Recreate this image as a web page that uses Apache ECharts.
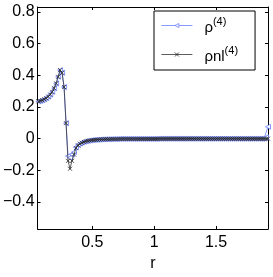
<!DOCTYPE html>
<html><head><meta charset="utf-8">
<script src="https://cdn.jsdelivr.net/npm/echarts@6/dist/echarts.min.js"></script>
<style>html,body{margin:0;padding:0;background:#fff}#c{width:273px;height:277px}</style>
</head><body><div id="c"></div>
<script>
const r = [0.064,0.080,0.096,0.112,0.128,0.144,0.160,0.176,0.192,0.208,0.224,0.240,0.256,0.272,0.288,0.304,0.320,0.336,0.352,0.368,
0.384,0.400,0.416,0.432,0.448,0.464,0.480,0.496,0.512,0.528,0.544,0.560,0.576,0.592,0.608,0.624,0.640,0.656,0.672,0.688,
0.704,0.720,0.736,0.752,0.768,0.784,0.800,0.816,0.832,0.848,0.864,0.880,0.896,0.912,0.928,0.944,0.960,0.976,0.992,1.008,
1.024,1.040,1.056,1.072,1.088,1.104,1.120,1.136,1.152,1.168,1.184,1.200,1.216,1.232,1.248,1.264,1.280,1.296,1.312,1.328,
1.344,1.360,1.376,1.392,1.408,1.424,1.440,1.456,1.472,1.488,1.504,1.520,1.536,1.552,1.568,1.584,1.600,1.616,1.632,1.648,
1.664,1.680,1.696,1.712,1.728,1.744,1.760,1.776,1.792,1.808,1.824,1.840,1.856,1.872,1.888,1.904,1.920];
const rho4 = [0.235,0.238,0.242,0.248,0.255,0.265,0.278,0.295,0.318,0.348,0.390,0.432,0.415,0.325,0.097,-0.110,-0.120,-0.100,-0.085,-0.055,
-0.040,-0.031,-0.025,-0.020,-0.017,-0.014,-0.012,-0.010,-0.009,-0.008,-0.007,-0.006,-0.005,-0.005,-0.004,-0.004,-0.004,-0.003,-0.003,-0.003,
-0.003,-0.002,-0.002,-0.002,-0.002,-0.002,-0.002,-0.002,-0.002,-0.002,-0.002,-0.002,-0.002,-0.002,-0.002,-0.002,-0.002,-0.002,-0.002,-0.002,
-0.002,-0.001,-0.001,-0.001,-0.001,-0.001,-0.001,-0.001,-0.001,-0.001,-0.001,-0.001,-0.001,-0.001,-0.001,-0.001,-0.001,-0.001,-0.001,-0.001,
-0.001,-0.001,-0.001,-0.001,-0.001,-0.001,-0.001,-0.001,-0.001,-0.001,-0.001,-0.001,-0.001,-0.001,-0.001,-0.001,-0.001,-0.001,-0.001,-0.001,
-0.001,-0.001,-0.001,-0.001,-0.001,-0.001,-0.001,-0.001,-0.001,-0.001,-0.001,-0.001,-0.001,-0.001,0.000,0.008,0.075];
const rhonl4 = [0.235,0.238,0.242,0.248,0.255,0.265,0.278,0.295,0.318,0.348,0.390,0.432,0.415,0.325,0.097,-0.140,-0.190,-0.140,-0.100,-0.060,
-0.042,-0.032,-0.026,-0.021,-0.017,-0.014,-0.012,-0.010,-0.009,-0.008,-0.007,-0.006,-0.005,-0.005,-0.004,-0.004,-0.004,-0.003,-0.003,-0.003,
-0.003,-0.002,-0.002,-0.002,-0.002,-0.002,-0.002,-0.002,-0.002,-0.002,-0.002,-0.002,-0.002,-0.002,-0.002,-0.002,-0.002,-0.002,-0.002,-0.002,
-0.002,-0.001,-0.001,-0.001,-0.001,-0.001,-0.001,-0.001,-0.001,-0.001,-0.001,-0.001,-0.001,-0.001,-0.001,-0.001,-0.001,-0.001,-0.001,-0.001,
-0.001,-0.001,-0.001,-0.001,-0.001,-0.001,-0.001,-0.001,-0.001,-0.001,-0.001,-0.001,-0.001,-0.001,-0.001,-0.001,-0.001,-0.001,-0.001,-0.001,
-0.001,-0.001,-0.001,-0.001,-0.001,-0.001,-0.001,-0.001,-0.001,-0.001,-0.001,-0.001,-0.001,-0.001,-0.001,-0.001,0.000];
const xTicks = [0.5, 1, 1.5];
const yTicks = [-0.4, -0.2, 0, 0.2, 0.4, 0.6, 0.8];
const xRange = [0.058, 1.92];
const yRange = [-0.57, 0.83];

const FONT = 'Liberation Sans, Arial, Helvetica, sans-serif';
const pair = (xs, ys) => xs.map((x, i) => [x, ys[i]]);
const fmt = v => (v < 0 ? '\u2212' + String(-v) : String(v));
const chart = echarts.init(document.getElementById('c'), null, {renderer: 'canvas'});
const axisLine = {show: true, onZero: false, lineStyle: {color: '#000', width: 1}};
const tick = {show: true, inside: true, length: 3, lineStyle: {color: '#000'}};
chart.setOption({
  animation: false,
  backgroundColor: '#fff',
  grid: {left: 37, right: 5, top: 7, bottom: 39},
  xAxis: [{
    type: 'value', min: xRange[0], max: xRange[1], position: 'bottom',
    axisLine, axisTick: Object.assign({customValues: xTicks}, tick),
    axisLabel: {customValues: xTicks, color: '#000', fontSize: 16, fontFamily: FONT, margin: 6, formatter: fmt},
    splitLine: {show: false},
    name: 'r', nameLocation: 'middle', nameGap: 27, nameTextStyle: {color: '#000', fontSize: 16, fontFamily: FONT}
  }, {
    type: 'value', min: xRange[0], max: xRange[1], position: 'top',
    axisLine, axisTick: Object.assign({customValues: xTicks}, tick),
    axisLabel: {show: false}, splitLine: {show: false}
  }],
  yAxis: [{
    type: 'value', min: yRange[0], max: yRange[1], position: 'left',
    axisLine, axisTick: Object.assign({customValues: yTicks}, tick),
    axisLabel: {customValues: yTicks, color: '#000', fontSize: 16, fontFamily: FONT, margin: 3, formatter: fmt},
    splitLine: {show: false}
  }, {
    type: 'value', min: yRange[0], max: yRange[1], position: 'right',
    axisLine, axisTick: Object.assign({customValues: yTicks}, tick),
    axisLabel: {show: false}, splitLine: {show: false}
  }],
  legend: {
    orient: 'vertical', left: 154, top: 11,
    backgroundColor: '#fff', borderColor: '#000', borderWidth: 1,
    padding: [5, 17, 6, 7], itemGap: 10, itemWidth: 31, itemHeight: 5,
    lineStyle: {width: 0.8},
    itemStyle: {borderWidth: 0.8},
    data: ['rho', 'rhonl'],
    formatter: n => n === 'rho' ? '{b|\u03c1}{s|(4)}' : '{b|\u03c1nl}{s|(4)}',
    textStyle: {
      color: '#000', fontFamily: FONT, padding: [0, 0, 0, 7],
      rich: {
        b: {fontSize: 15, fontFamily: FONT, color: '#000', lineHeight: 19, verticalAlign: 'bottom'},
        s: {fontSize: 11, fontFamily: FONT, color: '#000', lineHeight: 19, verticalAlign: 'top'}
      }
    }
  },
  series: [{
    name: 'rho', type: 'line', data: pair(r, rho4),
    symbol: 'path://M10,0L0,5L10,10Z', symbolSize: [5, 5],
    itemStyle: {color: '#fff', borderColor: '#6b80ff', borderWidth: 0.8},
    lineStyle: {color: '#6b80ff', width: 0.8}, z: 2
  }, {
    name: 'rhonl', type: 'line', data: pair(r, rhonl4),
    symbol: 'path://M0,0L10,10M10,0L0,10', symbolSize: [4, 4],
    itemStyle: {color: 'none', borderColor: '#222', borderWidth: 0.8},
    lineStyle: {color: '#333', width: 0.8}, z: 3
  }]
});
</script></body></html>
